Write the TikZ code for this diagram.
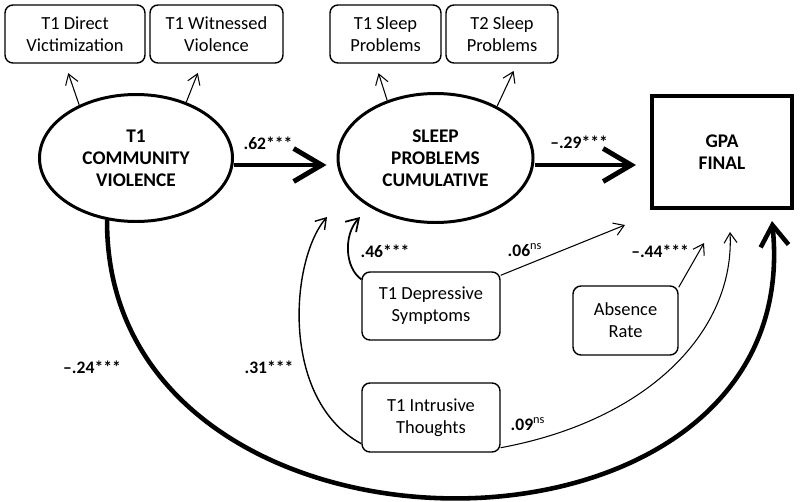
\documentclass[tikz,border=0pt]{standalone}
\usepackage{fontspec}
\setmainfont{Carlito}
\usetikzlibrary{shapes.geometric, arrows.meta}
\tikzstyle{indicator} = [rectangle, rounded corners=0.16cm, draw=black, line width=0.8pt, minimum height=1.16cm, inner sep=1pt, align=center, font=\fontsize{10.5}{12.5}\selectfont]
\tikzstyle{latent} = [ellipse, draw=black, line width=1.7pt, inner sep=0pt, align=center, font=\fontsize{11}{12.5}\selectfont\bfseries]
\tikzstyle{outcome} = [rectangle, draw=black, line width=2.3pt, align=center, font=\fontsize{11}{12.5}\selectfont\bfseries]
\tikzstyle{coef} = [font=\fontsize{10}{12}\selectfont\bfseries]
\tikzstyle{bigarrow} = [line width=2.8pt, -{Straight Barb[length=5.6mm,width=6.6mm]}]
\tikzstyle{curvearrow} = [line width=2.6pt, -{Straight Barb[length=4.2mm,width=5.6mm]}]
\tikzstyle{thinarrow} = [line width=0.6pt, -{Straight Barb[length=2mm,width=2.6mm]}]
\tikzstyle{midarrow} = [line width=1pt, -{Straight Barb[length=2.4mm,width=3mm]}]

\begin{document}
\begin{tikzpicture}
\useasboundingbox (0,0) rectangle (16,-10.02);

% measurement boxes
\node(dv)[indicator, minimum width=2.8cm] at (1.5,-0.68) {T1 Direct\\Victimization};
\node(wv)[indicator, minimum width=2.66cm] at (4.33,-0.68) {T1 Witnessed\\Violence};
\node(sp1)[indicator, minimum width=2.22cm] at (7.71,-0.68) {T1 Sleep\\Problems};
\node(sp2)[indicator, minimum width=2.24cm] at (10.04,-0.68) {T2 Sleep\\Problems};

% latent variables and outcome
\node(cv)[latent, minimum width=3.86cm, minimum height=2.54cm] at (2.72,-3.16) {T1\\COMMUNITY\\VIOLENCE};
\node(sl)[latent, minimum width=3.9cm, minimum height=2.58cm] at (8.71,-3.16) {SLEEP\\PROBLEMS\\CUMULATIVE};
\node(gpa)[outcome, minimum width=2.8cm, minimum height=2.24cm] at (14.44,-3.04) {GPA\\FINAL};

% covariates
\node(dep)[indicator, minimum width=2.76cm, minimum height=1.36cm] at (8.62,-6.12) {T1 Depressive\\Symptoms};
\node(ab)[indicator, minimum width=2.1cm, minimum height=1.38cm] at (12.51,-6.41) {Absence\\Rate};
\node(intr)[indicator, minimum width=2.76cm, minimum height=1.38cm] at (8.62,-8.35) {T1 Intrusive\\Thoughts};

% free arrow ends
\coordinate(c31) at (6.54,-4.34);
\coordinate(c46) at (7.2,-4.34);
\coordinate(c06) at (12.5,-4.5);
\coordinate(c44) at (14.08,-4.86);
\coordinate(c09) at (14.6,-4.64);
\coordinate(c24) at (15.44,-4.42);

% loadings
\draw[thinarrow, shorten >=0.2cm] (cv.137) -- ([xshift=-0.2cm]dv.south);
\draw[thinarrow, shorten >=0.2cm] (cv.48) -- ([xshift=-0.3cm]wv.south);
\draw[thinarrow, shorten >=0.2cm] (sl.130) -- ([xshift=-0.2cm]sp1.south);
\draw[thinarrow, shorten >=0.16cm] (sl.40) -- ([xshift=0.3cm]sp2.south);

% paths
\draw[bigarrow, shorten >=0.2cm] ([yshift=-0.14cm]cv.east) -- ([yshift=-0.14cm]sl.west);
\draw[bigarrow, shorten >=0.28cm] ([yshift=-0.14cm]sl.east) -- ([yshift=-0.14cm]sl.east -| gpa.west);
\draw[curvearrow] (cv.245) .. controls (2.1,-11.8) and (16.2,-11.8) .. (c24);
\draw[thinarrow, line width=0.8pt] ([yshift=0.18cm]intr.south west) .. controls (5.6,-8.0) and (5.8,-5.2) .. (c31);
\draw[midarrow] ([yshift=-0.16cm]dep.north west) .. controls (6.9,-5.36) and (6.86,-4.7) .. (c46);
\draw[thinarrow] ([yshift=-0.08cm]dep.north east) -- (c06);
\draw[thinarrow] ([yshift=-0.04cm]ab.north east) -- (c44);
\draw[thinarrow] ([yshift=0.1cm]intr.south east) .. controls (13.0,-8.4) and (14.7,-6.6) .. (c09);

% coefficients
\node(l62)[coef] at (5.36,-2.86) {.62***};
\node(l29)[coef] at (11.58,-2.84) {--.29***};
\node(l24)[coef] at (1.84,-7.34) {--.24***};
\node(l31)[coef] at (5.38,-7.34) {.31***};
\node(l46)[coef] at (7.7,-5.02) {.46***};
\node(l06)[coef] at (10.5,-5.0) {.06\textsuperscript{\mdseries ns}};
\node(l44)[coef] at (13.2,-5.02) {--.44***};
\node(l09)[coef] at (10.56,-8.48) {.09\textsuperscript{\mdseries ns}};
\end{tikzpicture}
\end{document}
